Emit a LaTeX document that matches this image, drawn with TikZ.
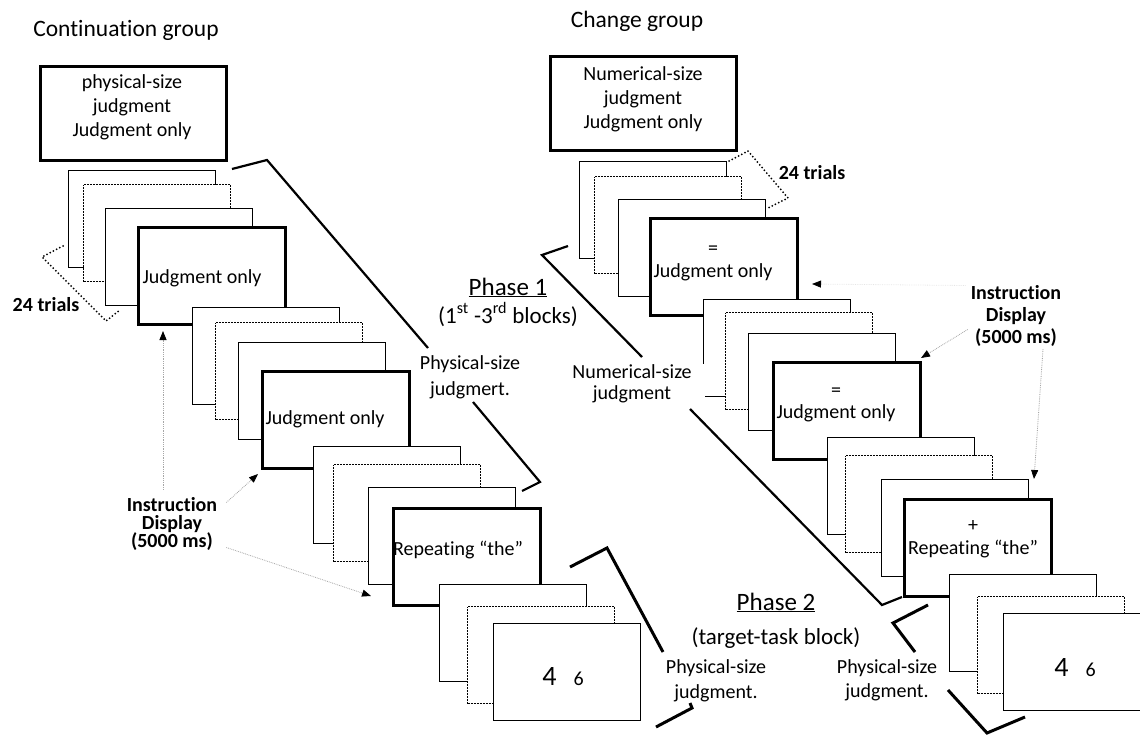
\documentclass[tikz,border=0pt]{standalone}
\usepackage{fontspec}
\setmainfont{Carlito}[Ligatures={TeX,NoCommon}]
\usetikzlibrary{arrows.meta}
\begin{document}
\begin{tikzpicture}[x=1pt,y=-1pt,
    card/.style = {draw,fill=white,line width=1.2pt,minimum width=147pt,minimum height=97pt,inner sep=0pt,anchor=north west},
    boldcard/.style = {card,line width=3pt},
    dotcard/.style = {card,line width=1.3pt,dash pattern=on 0.9pt off 0.6pt},
    headbox/.style = {draw,fill=white,line width=3pt,minimum width=186pt,minimum height=94pt,inner sep=0pt},
    lbl/.style = {font=\fontsize{20}{24}\selectfont,align=center,inner sep=1pt},
    blbl/.style = {font=\fontsize{20}{20}\selectfont\bfseries,align=center,inner sep=1pt},
    ttl/.style = {font=\fontsize{23.5}{28}\selectfont,inner sep=1pt,anchor=base},
    bracket/.style = {line width=2.2pt},
    trials/.style = {line width=2pt,dash pattern=on 0pt off 3.6pt,line cap=round},
    info/.style = {gray!70,densely dotted,line width=0.8pt,-{Triangle[length=9pt,width=7pt,color=black]}}]
\useasboundingbox (0,0) rectangle (1140,735);

\node[ttl] (contgroup) at (126,37) {Continuation group};
\node[ttl] (changegroup) at (637,28) {Change group};

\node[headbox] (headL) at (133,114) {};
\node[card] (a1) at (68,170) {};
\node[dotcard] (a2) at (83,184) {};
\node[card] (a3) at (105,208) {};
\node[boldcard] (a4) at (137,226) {};
\node[card] (b1) at (192,307) {};
\node[dotcard] (b2) at (215,322) {};
\node[card] (b3) at (238,342) {};
\node[boldcard] (b4) at (261,370) {};
\node[card] (c1) at (313,446) {};
\node[dotcard] (c2) at (333,464) {};
\node[card] (c3) at (368,487) {};
\node[boldcard] (c4) at (392,507) {};
\node[card] (d1) at (439,584) {};
\node[dotcard] (d2) at (467,606) {};
\node[card] (d3) at (493,623) {};

\node[headbox] (headR) at (643,103.5) {};
\node[card] (e1) at (579,161) {};
\node[dotcard] (e2) at (594,176) {};
\node[card] (e3) at (618,199) {};
\node[boldcard] (e4) at (649,217) {};
\node[card] (f1) at (703,299) {};
\node[dotcard] (f2) at (725,312) {};
\node[card] (f3) at (748,333) {};
\node[boldcard] (f4) at (772,361) {};
\node[card] (g1) at (827,437) {};
\node[dotcard] (g2) at (845,455) {};
\node[card] (g3) at (881,479) {};
\node[boldcard] (g4) at (903,498) {};
\node[card] (h1) at (949,574) {};
\node[dotcard] (h2) at (977,596) {};
\node[card] (h3) at (1003,613) {};

\node[lbl] (headLtxt) at (132,107) {physical-size\\judgment\\Judgment only};
\node[lbl] (a4txt) at (202,278) {Judgment only};
\node[lbl] (b4txt) at (325,419) {Judgment only};
\node[lbl] (c4txt) at (458,550) {Repeating “the”};
\node[lbl,anchor=base] (d3txt) at (563,685) {{\fontsize{28}{28}\selectfont 4}\hspace{17pt}6};
\node[lbl] (headRtxt) at (643,99) {Numerical-size\\judgment\\Judgment only};
\node[lbl,font=\fontsize{20}{23}\selectfont] (e4txt) at (713,263.5) {=\\Judgment only};
\node[lbl,font=\fontsize{20}{22}\selectfont] (f4txt) at (836,405) {=\\Judgment only};
\node[lbl,font=\fontsize{20}{23}\selectfont] (g4txt) at (973,539) {+\\Repeating “the”};
\node[lbl,anchor=base] (h3txt) at (1075,676) {{\fontsize{28}{28}\selectfont 4}\hspace{17pt}6};

\node[blbl] (trialsL) at (46,305) {24 trials};
\node[blbl] (trialsR) at (812,173) {24 trials};
\node[blbl,font=\fontsize{20}{18}\selectfont\bfseries] (instrL) at (172,523.5) {Instruction\\Display\\(5000 ms)};
\node[blbl,font=\fontsize{20}{22}\selectfont\bfseries] (instrR) at (1016,315.5) {Instruction\\Display\\(5000 ms)};
\node[lbl,font=\fontsize{20}{26}\selectfont] (phys1) at (470,377) {Physical-size\\judgmert.};
\node[lbl,font=\fontsize{20}{21}\selectfont,fill=white,inner xsep=13pt] (numlbl) at (632,384) {Numerical-size\\judgment};
\node[lbl,font=\fontsize{20}{25}\selectfont] (phys2L) at (716,681) {Physical-size\\judgment.};
\node[lbl] (phys2R) at (887,680) {Physical-size\\judgment.};
\node[ttl,font=\fontsize{25}{30}\selectfont] (phase1) at (508,295) {\underline{Phase 1}};
\node[ttl,font=\fontsize{23}{28}\selectfont] (phase1sub) at (508,323) {(1\textsuperscript{st} -3\textsuperscript{rd} blocks)};
\node[ttl,font=\fontsize{25}{30}\selectfont] (phase2) at (776,610) {\underline{Phase 2}};
\node[ttl,font=\fontsize{23}{28}\selectfont] (phase2sub) at (776,644) {(target-task block)};

\draw[bracket] (232,169) -- (267,160) -- (428,348);
\draw[bracket] (473,402) -- (540,482) -- (522,491);
\draw[bracket] (568,246) -- (542,255) -- (642,357);
\draw[bracket] (690,409) -- (882,605) -- (902,597);
\draw[bracket,line width=3pt] (570,567) -- (607,548) -- (663,652);
\draw[bracket,line width=3pt] (690,703) -- (692,708) -- (656,727);
\draw[bracket,line width=3pt] (928,605) -- (893,623) -- (915,652);
\draw[bracket,line width=3pt] (948,690) -- (987,733) -- (1025,717);

\draw[trials] (63,246) -- (42,257) -- (106,321) -- (120,310);
\draw[trials] (729,161) -- (748,151) -- (788,198) -- (768,208);

\coordinate (tipa) at (163,331);
\coordinate (tipb) at (258,474);
\coordinate (tipc) at (371,596);
\coordinate (tipd) at (921,358);
\coordinate (tipe) at (1034,479);
\coordinate (tipf) at (812,284);
\draw[info] ([xshift=-9pt,yshift=6pt]instrL.north) -- (tipa);
\draw[info] ([xshift=8pt,yshift=21pt]instrL.east) -- (tipb);
\draw[info] ([xshift=8pt,yshift=-24pt]instrL.east) -- (tipc);
\draw[info] ([xshift=-2pt,yshift=-14pt]instrR.west) -- (tipd);
\draw[info] ([xshift=27pt,yshift=-2pt]instrR.south) -- (tipe);
\draw[info,gray!20] ([xshift=-4pt,yshift=30pt]instrR.west) -- (tipf);
\end{tikzpicture}
\end{document}
